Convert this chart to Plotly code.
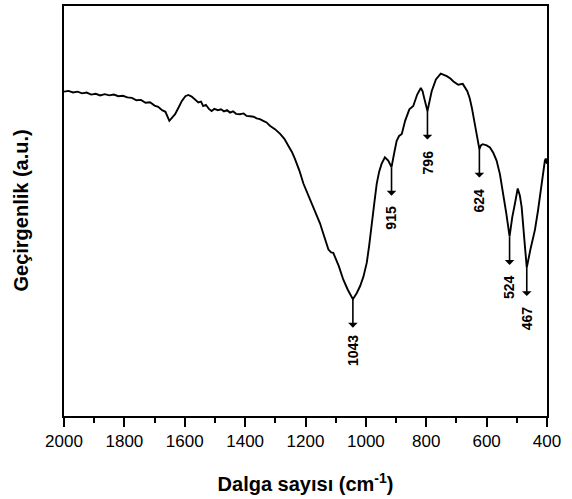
import plotly.graph_objects as go

# FTIR spectrum: wavenumber (cm^-1) and transmittance (a.u.)
wavenumber = [
    2000, 1985, 1970, 1955, 1940, 1925, 1910, 1895, 1880, 1865, 1850, 1835, 1820, 1805,
    1790, 1775, 1760, 1745, 1730, 1715, 1700, 1688, 1675, 1664, 1651, 1640, 1632, 1620,
    1610, 1598, 1588, 1577, 1566, 1555, 1546, 1539, 1530, 1520, 1511, 1502, 1490, 1480,
    1470, 1460, 1450, 1440, 1430, 1417, 1405, 1395, 1384, 1372, 1362, 1351, 1340, 1329,
    1318, 1300, 1284, 1270, 1257, 1245, 1235, 1220, 1207, 1185, 1165, 1152, 1138, 1124,
    1115, 1108, 1090, 1075, 1060, 1043, 1030, 1019, 1008, 997, 989, 981, 972, 964, 956,
    948, 937, 926, 915, 906, 898, 890, 881, 870, 863, 856, 843, 836, 830, 818, 812, 807,
    796, 789, 782, 768, 752, 742, 732, 720, 710, 694, 679, 664, 656, 649, 638, 630, 624,
    619, 613, 600, 589, 578, 567, 556, 545, 535, 524, 515, 506, 497, 490, 484, 475, 467,
    455, 440, 430, 418, 407, 404, 400,
]
transmittance = [
    79.1, 79.3, 78.9, 79.1, 78.7, 78.9, 78.4, 78.6, 78.2, 78.5, 78.2, 78.4, 78.0, 78.1,
    77.7, 77.6, 77.0, 77.1, 76.4, 76.5, 75.7, 75.4, 74.6, 74.2, 72.0, 72.8, 73.6, 75.3,
    76.8, 78.0, 78.3, 77.9, 77.2, 76.5, 76.7, 75.6, 75.9, 74.9, 74.4, 74.9, 74.6, 74.8,
    74.3, 74.6, 74.0, 74.3, 73.7, 73.6, 73.8, 73.2, 73.1, 73.0, 72.6, 72.4, 72.0, 71.6,
    70.8, 69.9, 68.8, 67.6, 65.9, 64.4, 62.7, 59.8, 56.7, 52.7, 49.5, 47.0, 43.8, 40.6,
    39.9, 39.8, 36.6, 33.3, 30.8, 28.5, 30.0, 31.7, 34.0, 37.4, 41.6, 47.0, 52.0, 56.7, 59.6,
    61.5, 63.1, 62.3, 60.7, 64.2, 67.1, 68.3, 68.8, 72.0, 73.7, 74.8, 75.6, 77.0, 78.4, 80.0, 79.2, 77.6,
    74.4, 76.8, 79.2, 82.1, 83.5, 83.2, 82.9, 82.3, 81.6, 80.8, 81.0, 79.2, 77.5, 75.2, 70.4, 66.8, 65.1,
    66.0, 66.3, 66.0, 65.5, 64.2, 62.3, 59.0, 54.3, 49.5, 43.8, 48.5, 51.9, 55.5, 53.8, 51.0, 43.0, 36.2,
    40.6, 45.4, 50.0, 56.7, 62.3, 62.8, 61.5,
]

# Marked absorption bands
band_positions = [1043, 915, 796, 624, 524, 467]
band_labels = ["1043", "915", "796", "624", "524", "467"]

x_ticks = [2000, 1800, 1600, 1400, 1200, 1000, 800, 600, 400]

FONT = "Arial, Liberation Sans, sans-serif"

fig = go.Figure()
fig.add_trace(go.Scatter(
    x=wavenumber, y=transmittance, mode="lines",
    line=dict(color="black", width=1.9), showlegend=False, hoverinfo="skip",
))

annotations = []
for pos, lab in zip(band_positions, band_labels):
    t = transmittance[wavenumber.index(pos)]
    # downward arrow starting at the band minimum
    annotations.append(dict(
        x=pos, y=t, xref="x", yref="y", text="", showarrow=True,
        ax=0, ay=30, arrowside="start", arrowhead=2, arrowsize=1.1,
        arrowwidth=1.6, arrowcolor="black", standoff=0, startstandoff=0,
    ))
    # rotated wavenumber label below the arrow
    annotations.append(dict(
        x=pos, y=t, xref="x", yref="y", text=f"<b>{lab}</b>", showarrow=False,
        textangle=-90, yshift=-51, font=dict(family=FONT, size=14, color="black"),
    ))

annotations.append(dict(
    x=-0.09, y=0.5, xref="paper", yref="paper", text="<b>Geçirgenlik (a.u.)</b>",
    showarrow=False, textangle=-90, xanchor="center", yanchor="middle",
    font=dict(family=FONT, size=20, color="black"),
))

fig.update_layout(
    width=572, height=499,
    margin=dict(l=64, r=25, t=4, b=83),
    paper_bgcolor="white", plot_bgcolor="white",
    annotations=annotations,
    xaxis=dict(
        range=[2000, 400], tickvals=x_ticks, ticktext=[str(v) for v in x_ticks],
        ticks="outside", ticklen=9, tickwidth=1.6, tickcolor="black",
        minor=dict(ticks="outside", ticklen=5, tickwidth=1.6, tickcolor="black", dtick=100),
        showline=True, linecolor="black", linewidth=1.7, mirror=True,
        showgrid=False, zeroline=False,
        tickfont=dict(family=FONT, size=17, color="black"),
        title=dict(text="<b>Dalga sayısı (cm<sup>-1</sup>)</b>", standoff=27,
                   font=dict(family=FONT, size=20, color="black")),
    ),
    yaxis=dict(
        range=[0, 100], showticklabels=False, ticks="",
        showline=True, linecolor="black", linewidth=1.7, mirror=True,
        showgrid=False, zeroline=False,
    ),
)

fig.write_html("out.html")
